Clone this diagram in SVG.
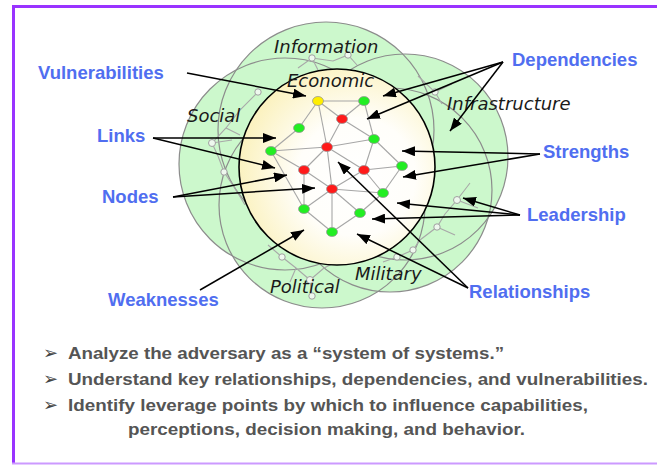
<svg xmlns="http://www.w3.org/2000/svg" width="657" height="465" viewBox="0 0 657 465">
<defs>
<style>
.frameT{stroke:#9933ff;stroke-width:3;fill:none}
.frameB{stroke:#cc99ff;stroke-width:2;fill:none}
.dom{fill:#ccf8cc;stroke:none}
.domline{fill:none;stroke:#8c8c8c;stroke-width:1.2}
.faint{fill:none;stroke:#a8a8a8;stroke-width:1.1}
.fnode{fill:#eef8ee;stroke:#a0a0a0;stroke-width:1}
.edge{stroke:#a6a6a6;stroke-width:1.1}
.g{fill:#22ee22;stroke:#9a9a9a;stroke-width:0.8}
.r{fill:#ff1a1a;stroke:#9a9a9a;stroke-width:0.8}
.y{fill:#ffee00;stroke:#9a9a9a;stroke-width:0.8}
.dlabel{font-family:"DejaVu Sans",sans-serif;font-style:oblique;font-size:18px;fill:#1a1a1a}
.blabel{font-family:"Liberation Sans",Arial,sans-serif;font-weight:bold;font-size:18.5px;fill:#506ef0}
.arr{stroke:#000;stroke-width:1.5;fill:none;marker-end:url(#ah)}
.bul{font-family:"Liberation Sans",Arial,sans-serif;font-weight:bold;font-size:17px;fill:#555555}
.bmark{font-family:"DejaVu Sans",sans-serif;font-size:18px;fill:#444}
</style>
<marker id="ah" markerWidth="13" markerHeight="10" refX="13" refY="5" orient="auto" markerUnits="userSpaceOnUse">
<path d="M0,0 L13,5 L0,10 z" fill="#000"/>
</marker>
<radialGradient id="eco" cx="0.6" cy="0.55" r="0.6" fx="0.6" fy="0.55">
<stop offset="0" stop-color="#ffffff"/>
<stop offset="0.5" stop-color="#fffefa"/>
<stop offset="1" stop-color="#fbf2c0"/>
</radialGradient>
</defs>

<g id="frame">
<line class="frameT" x1="12" y1="6.5" x2="657" y2="6.5"/>
<line class="frameT" x1="13.5" y1="5" x2="13.5" y2="464"/>
<line class="frameB" x1="12" y1="463.5" x2="657" y2="463.5"/>
</g>

<g id="domains">
<circle class="dom" cx="326" cy="130" r="108"/>
<circle class="dom" cx="285" cy="164" r="106"/>
<circle class="dom" cx="405" cy="157" r="103"/>
<circle class="dom" cx="322" cy="205" r="103"/>
<circle class="dom" cx="390" cy="190" r="102"/>
<circle class="domline" cx="326" cy="130" r="108"/>
<circle class="domline" cx="285" cy="164" r="106"/>
<circle class="domline" cx="405" cy="157" r="103"/>
<circle class="domline" cx="322" cy="205" r="103"/>
<circle class="domline" cx="390" cy="190" r="102"/>
</g>

<g id="outer-networks">
<polyline class="faint" points="298,68 312,58 333,61 348,55 357,65"/>
<line class="faint" x1="312" y1="58" x2="318" y2="70"/>
<polyline class="faint" points="418,76 435,92 442,104"/>
<line class="faint" x1="435" y1="92" x2="452" y2="84"/>
<polyline class="faint" points="258,92 240,110 226,128 212,143 218,156 224,172 236,190 245,205"/>
<line class="faint" x1="212" y1="143" x2="232" y2="140"/>
<line class="faint" x1="226" y1="128" x2="240" y2="135"/>
<polyline class="faint" points="470,183 457,200 445,214 437,227 420,240 413,250 397,257 383,262"/>
<line class="faint" x1="457" y1="200" x2="478" y2="208"/>
<line class="faint" x1="437" y1="227" x2="455" y2="235"/>
<polyline class="faint" points="268,245 282,257 296,268 310,280 324,268 336,262"/>
<line class="faint" x1="310" y1="280" x2="312" y2="296"/>
<line class="faint" x1="296" y1="268" x2="290" y2="282"/>
<circle class="fnode" cx="312" cy="58" r="3.2"/>
<circle class="fnode" cx="348" cy="55" r="3.2"/>
<circle class="fnode" cx="435" cy="92" r="3.2"/>
<circle class="fnode" cx="258" cy="92" r="3.2"/>
<circle class="fnode" cx="212" cy="143" r="3.5"/>
<circle class="fnode" cx="224" cy="172" r="3.2"/>
<circle class="fnode" cx="457" cy="200" r="3.5"/>
<circle class="fnode" cx="437" cy="227" r="3.2"/>
<circle class="fnode" cx="413" cy="250" r="3.2"/>
<circle class="fnode" cx="397" cy="257" r="3.2"/>
<circle class="fnode" cx="282" cy="257" r="3.2"/>
<circle class="fnode" cx="310" cy="280" r="3.5"/>
<circle class="fnode" cx="312" cy="296" r="3.2"/>
</g>

<g id="economic">
<circle cx="337" cy="167" r="98" fill="url(#eco)" stroke="#000" stroke-width="1.6"/>
</g>

<g id="inner-links">
<line class="edge" x1="318" y1="101" x2="364" y2="101"/>
<line class="edge" x1="318" y1="101" x2="299" y2="128"/>
<line class="edge" x1="318" y1="101" x2="327" y2="147"/>
<line class="edge" x1="318" y1="101" x2="342" y2="119"/>
<line class="edge" x1="364" y1="101" x2="342" y2="119"/>
<line class="edge" x1="364" y1="101" x2="374" y2="139"/>
<line class="edge" x1="342" y1="119" x2="374" y2="139"/>
<line class="edge" x1="342" y1="119" x2="327" y2="147"/>
<line class="edge" x1="299" y1="128" x2="271" y2="151"/>
<line class="edge" x1="271" y1="151" x2="327" y2="147"/>
<line class="edge" x1="271" y1="151" x2="304" y2="170"/>
<line class="edge" x1="271" y1="151" x2="304" y2="209"/>
<line class="edge" x1="327" y1="147" x2="374" y2="139"/>
<line class="edge" x1="327" y1="147" x2="304" y2="170"/>
<line class="edge" x1="327" y1="147" x2="364" y2="170"/>
<line class="edge" x1="327" y1="147" x2="332" y2="189"/>
<line class="edge" x1="374" y1="139" x2="364" y2="170"/>
<line class="edge" x1="374" y1="139" x2="402" y2="166"/>
<line class="edge" x1="364" y1="170" x2="402" y2="166"/>
<line class="edge" x1="364" y1="170" x2="383" y2="193"/>
<line class="edge" x1="402" y1="166" x2="383" y2="193"/>
<line class="edge" x1="304" y1="170" x2="332" y2="189"/>
<line class="edge" x1="304" y1="170" x2="304" y2="209"/>
<line class="edge" x1="332" y1="189" x2="364" y2="170"/>
<line class="edge" x1="332" y1="189" x2="304" y2="209"/>
<line class="edge" x1="332" y1="189" x2="332" y2="232"/>
<line class="edge" x1="332" y1="189" x2="383" y2="193"/>
<line class="edge" x1="332" y1="189" x2="360" y2="213"/>
<line class="edge" x1="304" y1="209" x2="332" y2="232"/>
<line class="edge" x1="360" y1="213" x2="332" y2="232"/>
<line class="edge" x1="383" y1="193" x2="360" y2="213"/>
</g>

<g id="inner-nodes">
<ellipse class="y" cx="318" cy="101" rx="5.5" ry="4.5"/>
<ellipse class="g" cx="364" cy="101" rx="5.5" ry="4.5"/>
<ellipse class="r" cx="342" cy="119" rx="5.5" ry="4.5"/>
<ellipse class="g" cx="299" cy="128" rx="5.5" ry="4.5"/>
<ellipse class="g" cx="374" cy="139" rx="5.5" ry="4.5"/>
<ellipse class="g" cx="271" cy="151" rx="5.5" ry="4.5"/>
<ellipse class="r" cx="327" cy="147" rx="5.5" ry="4.5"/>
<ellipse class="r" cx="304" cy="170" rx="5.5" ry="4.5"/>
<ellipse class="r" cx="364" cy="170" rx="5.5" ry="4.5"/>
<ellipse class="g" cx="402" cy="166" rx="5.5" ry="4.5"/>
<ellipse class="r" cx="332" cy="189" rx="5.5" ry="4.5"/>
<ellipse class="g" cx="383" cy="193" rx="5.5" ry="4.5"/>
<ellipse class="g" cx="304" cy="209" rx="5.5" ry="4.5"/>
<ellipse class="g" cx="360" cy="213" rx="5.5" ry="4.5"/>
<ellipse class="g" cx="332" cy="232" rx="5.5" ry="4.5"/>
</g>

<g id="domain-labels">
<text class="dlabel" x="274" y="53">Information</text>
<text class="dlabel" x="287" y="87">Economic</text>
<text class="dlabel" x="187" y="122">Social</text>
<text class="dlabel" x="447" y="110">Infrastructure</text>
<text class="dlabel" x="355" y="280">Military</text>
<text class="dlabel" x="270" y="293">Political</text>
</g>

<g id="connectors">
<line class="arr" x1="187" y1="73" x2="306" y2="96"/>
<line class="arr" x1="503" y1="62" x2="383" y2="96"/>
<line class="arr" x1="503" y1="62" x2="367" y2="119"/>
<line class="arr" x1="503" y1="62" x2="450" y2="131"/>
<line class="arr" x1="153" y1="138" x2="276" y2="138"/>
<line class="arr" x1="153" y1="138" x2="275" y2="168"/>
<line class="arr" x1="173" y1="197" x2="287" y2="175"/>
<line class="arr" x1="173" y1="197" x2="315" y2="188"/>
<line class="arr" x1="200" y1="290" x2="304" y2="230"/>
<line class="arr" x1="540" y1="154" x2="402" y2="151"/>
<line class="arr" x1="540" y1="154" x2="403" y2="177"/>
<line class="arr" x1="520" y1="215" x2="463" y2="198"/>
<line class="arr" x1="520" y1="215" x2="397" y2="203"/>
<line class="arr" x1="520" y1="215" x2="372" y2="219"/>
<line class="arr" x1="468" y1="288" x2="338" y2="162"/>
<line class="arr" x1="468" y1="288" x2="357" y2="234"/>
</g>

<g id="callout-labels">
<text class="blabel" x="38" y="79">Vulnerabilities</text>
<text class="blabel" x="97" y="142">Links</text>
<text class="blabel" x="102" y="203">Nodes</text>
<text class="blabel" x="108" y="306">Weaknesses</text>
<text class="blabel" x="512" y="66">Dependencies</text>
<text class="blabel" x="543" y="158">Strengths</text>
<text class="blabel" x="527" y="221">Leadership</text>
<text class="blabel" x="469" y="298">Relationships</text>
</g>

<g id="bullets">
<text class="bmark" x="43" y="359">➢</text>
<text class="bmark" x="43" y="385">➢</text>
<text class="bmark" x="43" y="411">➢</text>
<text class="bul" x="68" y="359" textLength="436" lengthAdjust="spacingAndGlyphs">Analyze the adversary as a “system of systems.”</text>
<text class="bul" x="68" y="385" textLength="580" lengthAdjust="spacingAndGlyphs">Understand key relationships, dependencies, and vulnerabilities.</text>
<text class="bul" x="68" y="411" textLength="520" lengthAdjust="spacingAndGlyphs">Identify leverage points by which to influence capabilities,</text>
<text class="bul" x="128" y="435" textLength="397" lengthAdjust="spacingAndGlyphs">perceptions, decision making, and behavior.</text>
</g>
</svg>
